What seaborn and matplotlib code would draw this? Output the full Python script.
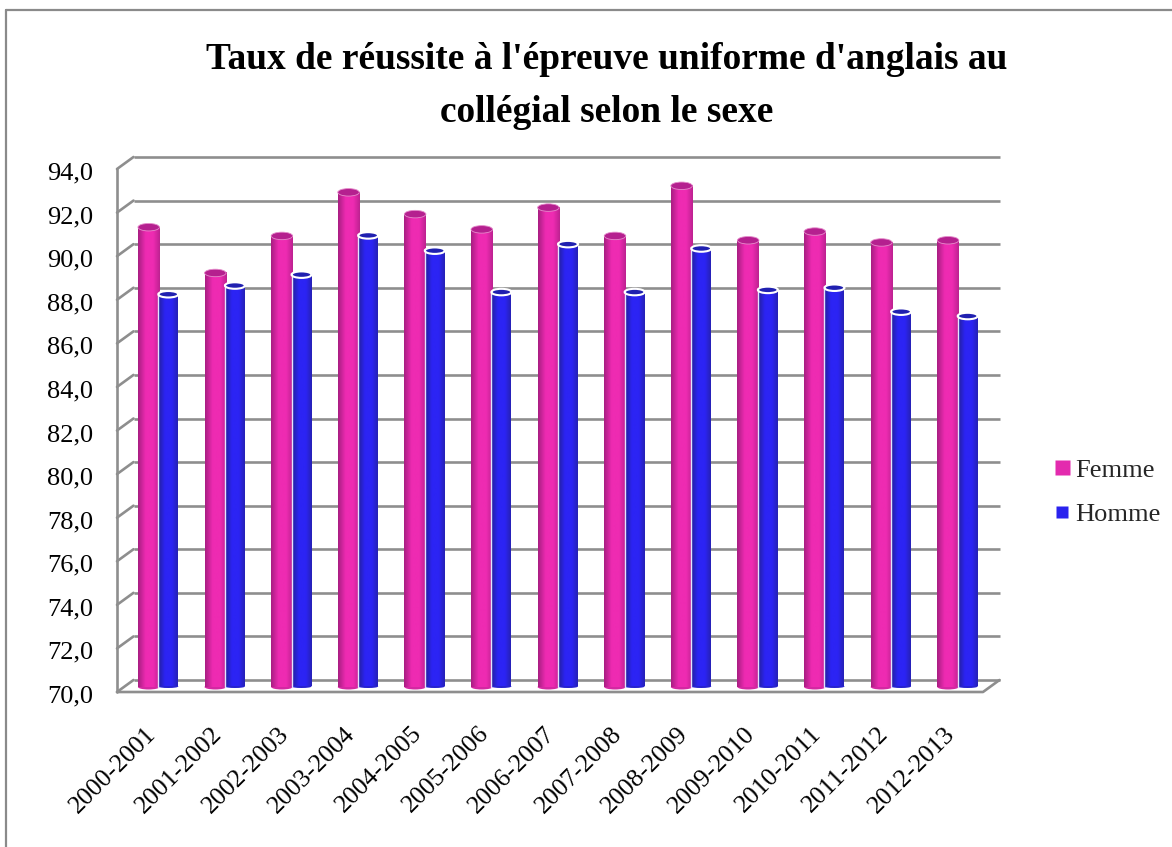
import numpy as np
import pandas as pd
import matplotlib
matplotlib.use("Agg")
import matplotlib.pyplot as plt
import seaborn as sns
from matplotlib.lines import Line2D
from matplotlib.patches import Ellipse
from matplotlib.transforms import Affine2D

annees = ["2000-2001", "2001-2002", "2002-2003", "2003-2004", "2004-2005", "2005-2006", "2006-2007",
          "2007-2008", "2008-2009", "2009-2010", "2010-2011", "2011-2012", "2012-2013"]
femme = [91.1, 89.0, 90.7, 92.7, 91.7, 91.0, 92.0, 90.7, 93.0, 90.5, 90.9, 90.4, 90.5]
homme = [88.0, 88.4, 88.9, 90.7, 90.0, 88.1, 90.3, 88.1, 90.1, 88.2, 88.3, 87.2, 87.0]
graduations = list(range(70, 96, 2))
titre = "Taux de réussite à l'épreuve uniforme d'anglais au\ncollégial selon le sexe"

W, H = 1172, 847
sns.set_theme(style="white")
plt.rcParams["font.family"] = ["Liberation Serif", "DejaVu Serif"]

df = pd.DataFrame({
    "annee": annees * 2,
    "taux": femme + homme,
    "sexe": ["Femme"] * len(annees) + ["Homme"] * len(annees),
})

fig = plt.figure(figsize=(W / 100, H / 100), dpi=100, facecolor="white")
L, R, T, B = 117, 983, 169, 692
ax = fig.add_axes([L / W, 1 - B / H, (R - L) / W, (B - T) / H])
sns.barplot(data=df, x="annee", y="taux", hue="sexe", hue_order=["Femme", "Homme"],
            palette={"Femme": "#E92BAE", "Homme": "#2A22EE"}, width=0.62, ax=ax,
            legend=False, errorbar=None)
ax.set_xlim(-0.5, 12.5)
ax.set_ylim(70, 94)
ax.set_xlabel("")
ax.set_ylabel("")
ax.patch.set_alpha(0)
for s in ax.spines.values():
    s.set_visible(False)

px = 1 / ((R - L) / 13)
py = 1 / ((B - T) / 24)
DX, DY = 16.5 * px, 12 * py
GRID = "#8E8E8E"
LW = 1.9

for v in graduations[:13]:
    ax.plot([-0.5 + DX, 12.5 + DX], [v + DY, v + DY], color=GRID, lw=LW, zorder=0.5, clip_on=False,
            solid_capstyle="butt")
    ax.plot([-0.5, -0.5 + DX], [v, v + DY], color=GRID, lw=LW, zorder=0.6, clip_on=False)
ax.plot([-0.5, -0.5], [70, 94], color=GRID, lw=LW, zorder=0.7, clip_on=False)
ax.plot([-0.5, 12.5, 12.5 + DX], [70, 70, 70 + DY], color=GRID, lw=LW, zorder=0.7, clip_on=False)


def degrade(sombre, clair):
    t = np.linspace(0, 1, 64)
    prof = np.clip(np.interp(t, [0, 0.35, 0.7, 1], [0.0, 1.0, 1.0, 0.3]), 0, 1)
    a = np.array(matplotlib.colors.to_rgb(sombre))
    b = np.array(matplotlib.colors.to_rgb(clair))
    return (a + (b - a) * prof[:, None])[None, :, :]


styles = [
    dict(dx=8.7 * px, dy=5 * py, w=21.5 * px, grad=degrade("#A81E82", "#EE2BB2"), top="#B5208F",
         rim="#E58CCB", rw=0.6, eh=7.5 * py, beh=5 * py, bc="#D428A2"),
    dict(dx=7.7 * px, dy=5.5 * py, w=20 * px, grad=degrade("#23209A", "#2C24F4"), top="#2020B0",
         rim="white", rw=1.5, eh=6.5 * py, beh=3 * py, bc="#2622D0"),
]
for k, (cont, st) in enumerate(zip(ax.containers, styles)):
    for j, bar in enumerate(cont):
        cx = bar.get_x() + bar.get_width() / 2 + st["dx"]
        v = bar.get_height() + bar.get_y()
        base = 70 + st["dy"]
        top = v + st["dy"]
        x0, x1 = cx - st["w"] / 2, cx + st["w"] / 2
        bar.set_visible(False)
        order = 2.0 + j * 2 + k * 0.5
        ax.add_patch(Ellipse((cx, base), st["w"], st["beh"], facecolor=st["bc"],
                             edgecolor="none", zorder=order, clip_on=False))
        ax.imshow(st["grad"], extent=(x0, x1, base, top), aspect="auto", zorder=order + 0.1,
                  interpolation="bilinear", clip_on=False)
        ax.add_patch(Ellipse((cx, top), st["w"], st["eh"], facecolor=st["top"], edgecolor=st["rim"],
                             lw=st["rw"], zorder=order + 0.2, clip_on=False))
        if k == 1:
            ax.plot([x0, x0], [base, top], color="#E4E4FF", lw=1.0, zorder=order + 0.15, clip_on=False)
ax.set_xlim(-0.5, 12.5)
ax.set_ylim(70, 94)

ax.set_yticks(graduations[:13])
ax.set_yticklabels([f"{v:.1f}".replace(".", ",") for v in graduations[:13]], fontsize=19, color="black")
ax.tick_params(axis="y", length=0, pad=17)
for lab in ax.get_yticklabels():
    lab.set_transform(lab.get_transform() + Affine2D().translate(0, -2))
ax.tick_params(axis="x", length=0, pad=22)
ax.set_xticks(range(len(annees)))
ax.set_xticklabels(annees, fontsize=18.5, color="black", rotation=45, ha="right", rotation_mode="anchor")
for lab in ax.get_xticklabels():
    lab.set_transform(lab.get_transform() + Affine2D().translate(-6, 0))

fig.text(607 / W, 1 - 86 / H, titre, ha="center", va="center", fontsize=26.9, fontweight="bold",
         color="black", linespacing=1.69)

handles = [
    Line2D([], [], linestyle="none", marker="s", markersize=10.8, markerfacecolor="#E32BAE",
           markeredgecolor="none", label="Femme"),
    Line2D([], [], linestyle="none", marker="s", markersize=8.5, markerfacecolor="#2A22EE",
           markeredgecolor="none", label="Homme"),
]
fig.legend(handles=handles, loc="center left", bbox_to_anchor=(1049 / W, 1 - 492 / H), frameon=False,
           fontsize=19, handlelength=1.0, handletextpad=0.0, labelspacing=0.78, borderpad=0, borderaxespad=0)

for xs, ys in [([6, 6], [847, 10]), ([6, W], [10, 10])]:
    fig.add_artist(Line2D([x / W for x in xs], [1 - y / H for y in ys], color="#8A8A8A", lw=1.6))

fig.savefig("out.png", dpi=100)
